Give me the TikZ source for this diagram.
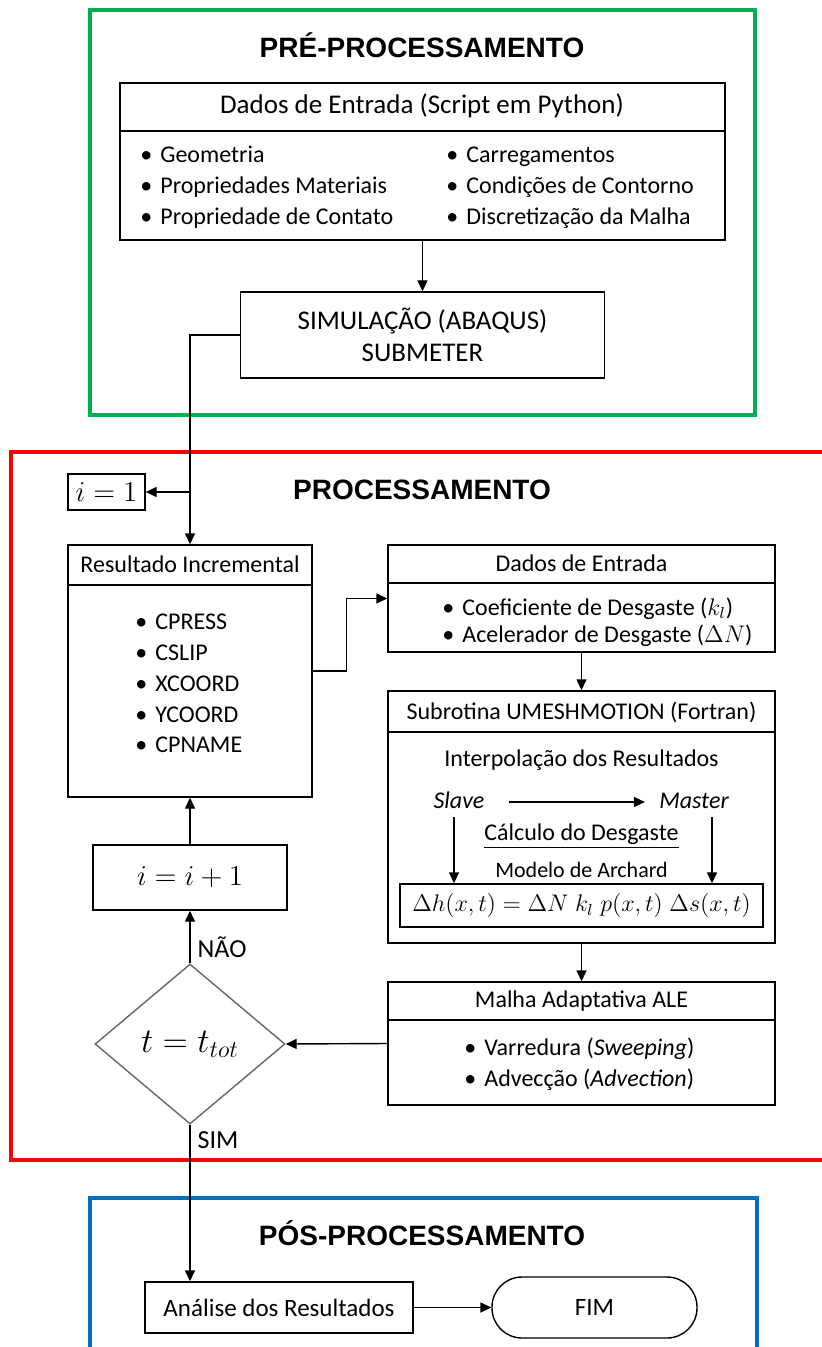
\documentclass[tikz,border=0pt]{standalone}
\usepackage[no-math]{fontspec}
\setmainfont{Carlito}
\newfontfamily\headfont{Liberation Sans}
\usepackage{amsmath}
\usepackage{tikz}
\usetikzlibrary{arrows.meta, fit, shapes.geometric}

\definecolor{preverde}{RGB}{0,176,80}
\definecolor{posazul}{RGB}{0,112,192}
\newcommand{\bul}{\makebox[10pt][l]{\textbullet}}

\begin{document}
\begin{tikzpicture}[x=0.5pt,y=-0.5pt,
  box/.style={draw=black,line width=0.7pt,inner sep=0pt},
  txt/.style={font=\fontsize{12}{14}\selectfont,inner sep=0pt,text height=8.5pt,text depth=2.5pt},
  itxt/.style={txt,font=\fontsize{12}{14}\selectfont\itshape},
  bigtxt/.style={font=\fontsize{13.5}{16}\selectfont,inner sep=0pt,text height=9.5pt,text depth=3pt},
  title/.style={font=\headfont\bfseries\fontsize{14}{16}\selectfont,inner sep=0pt},
  item/.style={txt,anchor=west},
  lbl/.style={font=\fontsize{13}{15}\selectfont,inner sep=0pt,anchor=west,xshift=3.5pt},
  arr/.style={line width=0.7pt,-{Triangle[length=5.5pt,width=5pt]}},
  stage/.style={line width=1.6pt}]
\useasboundingbox (0,0) rectangle (821,1347);

% pre-processamento
\draw[stage,preverde] (90,10) rectangle (755,415);
\node[title] (tpre) at (422,45) {PRÉ-PROCESSAMENTO};
\node[box,fit={(120,83) (725,240)}] (din) {};
\draw[line width=0.7pt] (din.west |- 0,131) -- (din.east |- 0,131);
\node[bigtxt] (dinh) at (422,107) {Dados de Entrada (Script em Python)};
\node[item] (g1) at (140,157) {\bul Geometria};
\node[item] (g2) at (140,188) {\bul Propriedades Materiais};
\node[item] (g3) at (140,219) {\bul Propriedade de Contato};
\node[item] (g4) at (446,157) {\bul Carregamentos};
\node[item] (g5) at (446,188) {\bul Condições de Contorno};
\node[item] (g6) at (446,219) {\bul Discretização da Malha};
\node[box,bigtxt,align=center,minimum width=182pt,minimum height=43pt,text height=,text depth=] (sim) at (422.5,335) {SIMULAÇÃO (ABAQUS)\\SUBMETER};
\draw[arr] (din.south) -- (sim.north);

% processamento
\draw[stage,red] (825,452) -- (11,452) -- (11,1160) -- (825,1160);
\node[title] (tproc) at (422,490) {PROCESSAMENTO};
\node[box,minimum width=38.5pt,minimum height=18pt,font=\fontsize{14}{16}\selectfont] (ione) at (106.5,492) {$i=1$};

\node[box,fit={(68,545) (312,797)}] (res) {};
\draw[line width=0.7pt] (res.west |- 0,585) -- (res.east |- 0,585);
\node[txt] (resh) at (190,566) {Resultado Incremental};
\node[item] (r1) at (135,623) {\bul CPRESS};
\node[item] (r2) at (135,654) {\bul CSLIP};
\node[item] (r3) at (135,685) {\bul XCOORD};
\node[item] (r4) at (135,716) {\bul YCOORD};
\node[item] (r5) at (135,746) {\bul CPNAME};

\node[box,fit={(388,545) (775,652)}] (de) {};
\draw[line width=0.7pt] (de.west |- 0,583) -- (de.east |- 0,583);
\node[txt] (deh) at (581.5,565) {Dados de Entrada};
\node[item] (d1) at (442,609) {\bul Coeficiente de Desgaste ($k_l$)};
\node[item] (d2) at (442,636) {\bul Acelerador de Desgaste ($\Delta N$)};

\node[box,fit={(388,691) (775,943)}] (sub) {};
\draw[line width=0.7pt] (sub.west |- 0,732) -- (sub.east |- 0,732);
\node[txt] (subh) at (581.5,713) {Subrotina UMESHMOTION (Fortran)};
\node[txt] (interp) at (581.5,760) {Interpolação dos Resultados};
\node[itxt] (slave) at (459,802) {Slave};
\node[itxt] (master) at (694,802) {Master};
\node[txt] (calc) at (581.5,834) {\underline{Cálculo do Desgaste}};
\node[txt,font=\fontsize{11}{13}\selectfont] (arch) at (581.5,871) {Modelo de Archard};
\node[box,fit={(400,884) (763,927)}] (form) {};
\node[font=\fontsize{12}{14}\selectfont] (formt) at (form) {$\Delta h(x,t)=\Delta N\;k_l\;p(x,t)\;\Delta s(x,t)$};
\coordinate (sl) at (454,817);
\coordinate (ma) at (712,817);
\draw[arr,shorten <=12pt,shorten >=7pt] (slave.east) -- (master.west);
\draw[arr] (sl) -- (sl |- form.north);
\draw[arr] (ma) -- (ma |- form.north);

\node[box,fit={(388,982) (775,1105)}] (mal) {};
\draw[line width=0.7pt] (mal.west |- 0,1020) -- (mal.east |- 0,1020);
\node[txt] (malh) at (581.5,1001) {Malha Adaptativa ALE};
\node[item] (m1) at (464,1049) {\bul Varredura (\textit{Sweeping})};
\node[item] (m2) at (464,1080) {\bul Advecção (\textit{Advection})};

\node[draw=black!60,line width=0.7pt,diamond,aspect=1.2,inner sep=0pt,minimum width=95pt,minimum height=80pt,font=\fontsize{18}{20}\selectfont] (dia) at (190,1044) {$t=t_{tot}$};
\node[box,minimum width=97pt,minimum height=32.5pt,font=\fontsize{14}{16}\selectfont] (inc) at (190,877.5) {$i=i+1$};

\draw[arr] (sim.west) -| (res.north);
\draw[arr] (res.north |- ione.east) -- (ione.east);
\draw[arr] (res.east) -- ++(34,0) |- (de.west);
\draw[arr] (de.south) -- (sub.north);
\draw[arr] (sub.south) -- (mal.north);
\draw[arr] (mal.west) -- (dia.east);
\draw[arr] (dia.north) -- node[lbl,pos=0.3] (nao) {NÃO} (inc.south);
\draw[arr] (inc.north) -- (res.south);

% pos-processamento
\draw[stage,posazul] (90,1352) -- (90,1198) -- (757,1198) -- (757,1352);
\node[title] (tpos) at (422,1233) {PÓS-PROCESSAMENTO};
\node[box,minimum width=134pt,minimum height=25.5pt,font=\fontsize{12.5}{14}\selectfont] (ana) at (279,1307.5) {Análise dos Resultados};
\node[box,rounded corners=15pt,minimum width=102.5pt,minimum height=30.5pt,font=\fontsize{12.5}{14}\selectfont] (fim) at (594.5,1307.5) {FIM};
\draw[arr] (dia.south) -- node[lbl,pos=0.1] (sim2) {SIM} (dia.south |- ana.north);
\draw[arr] (ana.east) -- (fim.west);
\end{tikzpicture}
\end{document}
